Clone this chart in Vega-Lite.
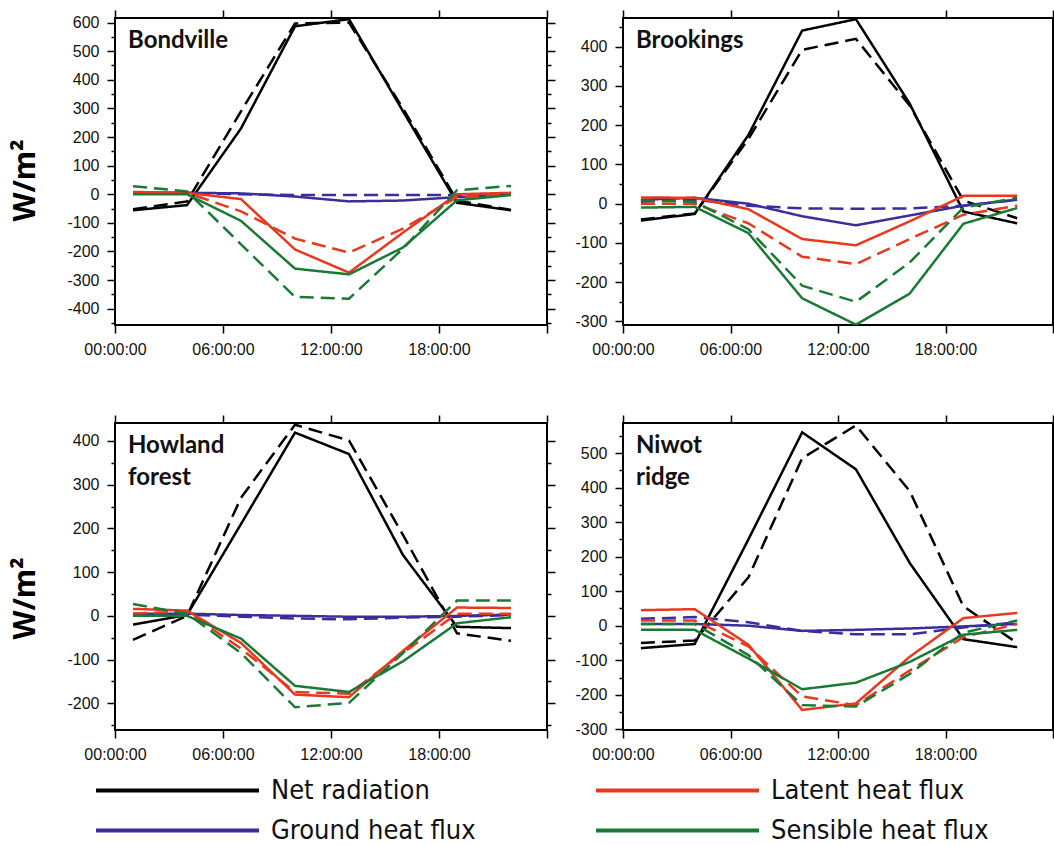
{
  "$schema": "https://vega.github.io/schema/vega-lite/v6.json",
  "background": "white",
  "padding": {"left": 9, "top": 8, "right": 5, "bottom": 0},
  "datasets": {
    "bondville": [
      {"flux":"Net radiation","run":"A","hour":1,"value":-56},{"flux":"Net radiation","run":"A","hour":4,"value":-38},{"flux":"Net radiation","run":"A","hour":7,"value":230},{"flux":"Net radiation","run":"A","hour":10,"value":587},{"flux":"Net radiation","run":"A","hour":13,"value":612},{"flux":"Net radiation","run":"A","hour":16,"value":290},{"flux":"Net radiation","run":"A","hour":19,"value":-30},{"flux":"Net radiation","run":"A","hour":22,"value":-56},
      {"flux":"Net radiation","run":"B","hour":1,"value":-52},{"flux":"Net radiation","run":"B","hour":4,"value":-25},{"flux":"Net radiation","run":"B","hour":7,"value":290},{"flux":"Net radiation","run":"B","hour":10,"value":597},{"flux":"Net radiation","run":"B","hour":13,"value":600},{"flux":"Net radiation","run":"B","hour":16,"value":300},{"flux":"Net radiation","run":"B","hour":19,"value":-22},{"flux":"Net radiation","run":"B","hour":22,"value":-55},
      {"flux":"Ground heat flux","run":"A","hour":1,"value":5},{"flux":"Ground heat flux","run":"A","hour":4,"value":5},{"flux":"Ground heat flux","run":"A","hour":7,"value":3},{"flux":"Ground heat flux","run":"A","hour":10,"value":-8},{"flux":"Ground heat flux","run":"A","hour":13,"value":-25},{"flux":"Ground heat flux","run":"A","hour":16,"value":-22},{"flux":"Ground heat flux","run":"A","hour":19,"value":-10},{"flux":"Ground heat flux","run":"A","hour":22,"value":0},
      {"flux":"Ground heat flux","run":"B","hour":1,"value":3},{"flux":"Ground heat flux","run":"B","hour":4,"value":3},{"flux":"Ground heat flux","run":"B","hour":7,"value":0},{"flux":"Ground heat flux","run":"B","hour":10,"value":-3},{"flux":"Ground heat flux","run":"B","hour":13,"value":-3},{"flux":"Ground heat flux","run":"B","hour":16,"value":-3},{"flux":"Ground heat flux","run":"B","hour":19,"value":-3},{"flux":"Ground heat flux","run":"B","hour":22,"value":0},
      {"flux":"Latent heat flux","run":"A","hour":1,"value":8},{"flux":"Latent heat flux","run":"A","hour":4,"value":5},{"flux":"Latent heat flux","run":"A","hour":7,"value":-17},{"flux":"Latent heat flux","run":"A","hour":10,"value":-193},{"flux":"Latent heat flux","run":"A","hour":13,"value":-274},{"flux":"Latent heat flux","run":"A","hour":16,"value":-134},{"flux":"Latent heat flux","run":"A","hour":19,"value":0},{"flux":"Latent heat flux","run":"A","hour":22,"value":5},
      {"flux":"Latent heat flux","run":"B","hour":1,"value":5},{"flux":"Latent heat flux","run":"B","hour":4,"value":5},{"flux":"Latent heat flux","run":"B","hour":7,"value":-60},{"flux":"Latent heat flux","run":"B","hour":10,"value":-155},{"flux":"Latent heat flux","run":"B","hour":13,"value":-204},{"flux":"Latent heat flux","run":"B","hour":16,"value":-120},{"flux":"Latent heat flux","run":"B","hour":19,"value":-10},{"flux":"Latent heat flux","run":"B","hour":22,"value":0},
      {"flux":"Sensible heat flux","run":"A","hour":1,"value":0},{"flux":"Sensible heat flux","run":"A","hour":4,"value":0},{"flux":"Sensible heat flux","run":"A","hour":7,"value":-93},{"flux":"Sensible heat flux","run":"A","hour":10,"value":-260},{"flux":"Sensible heat flux","run":"A","hour":13,"value":-280},{"flux":"Sensible heat flux","run":"A","hour":16,"value":-186},{"flux":"Sensible heat flux","run":"A","hour":19,"value":-21},{"flux":"Sensible heat flux","run":"A","hour":22,"value":-3},
      {"flux":"Sensible heat flux","run":"B","hour":1,"value":28},{"flux":"Sensible heat flux","run":"B","hour":4,"value":10},{"flux":"Sensible heat flux","run":"B","hour":7,"value":-175},{"flux":"Sensible heat flux","run":"B","hour":10,"value":-359},{"flux":"Sensible heat flux","run":"B","hour":13,"value":-365},{"flux":"Sensible heat flux","run":"B","hour":16,"value":-190},{"flux":"Sensible heat flux","run":"B","hour":19,"value":14},{"flux":"Sensible heat flux","run":"B","hour":22,"value":29}
    ],
    "brookings": [
      {"flux":"Net radiation","run":"A","hour":1,"value":-43},{"flux":"Net radiation","run":"A","hour":4,"value":-26},{"flux":"Net radiation","run":"A","hour":7,"value":175},{"flux":"Net radiation","run":"A","hour":10,"value":441},{"flux":"Net radiation","run":"A","hour":13,"value":470},{"flux":"Net radiation","run":"A","hour":16,"value":255},{"flux":"Net radiation","run":"A","hour":19,"value":-20},{"flux":"Net radiation","run":"A","hour":22,"value":-50},
      {"flux":"Net radiation","run":"B","hour":1,"value":-40},{"flux":"Net radiation","run":"B","hour":4,"value":-25},{"flux":"Net radiation","run":"B","hour":7,"value":165},{"flux":"Net radiation","run":"B","hour":10,"value":392},{"flux":"Net radiation","run":"B","hour":13,"value":420},{"flux":"Net radiation","run":"B","hour":16,"value":250},{"flux":"Net radiation","run":"B","hour":19,"value":8},{"flux":"Net radiation","run":"B","hour":22,"value":-37},
      {"flux":"Ground heat flux","run":"A","hour":1,"value":10},{"flux":"Ground heat flux","run":"A","hour":4,"value":15},{"flux":"Ground heat flux","run":"A","hour":7,"value":0},{"flux":"Ground heat flux","run":"A","hour":10,"value":-32},{"flux":"Ground heat flux","run":"A","hour":13,"value":-55},{"flux":"Ground heat flux","run":"A","hour":16,"value":-30},{"flux":"Ground heat flux","run":"A","hour":19,"value":-5},{"flux":"Ground heat flux","run":"A","hour":22,"value":10},
      {"flux":"Ground heat flux","run":"B","hour":1,"value":5},{"flux":"Ground heat flux","run":"B","hour":4,"value":10},{"flux":"Ground heat flux","run":"B","hour":7,"value":-5},{"flux":"Ground heat flux","run":"B","hour":10,"value":-12},{"flux":"Ground heat flux","run":"B","hour":13,"value":-13},{"flux":"Ground heat flux","run":"B","hour":16,"value":-12},{"flux":"Ground heat flux","run":"B","hour":19,"value":-5},{"flux":"Ground heat flux","run":"B","hour":22,"value":10},
      {"flux":"Latent heat flux","run":"A","hour":1,"value":16},{"flux":"Latent heat flux","run":"A","hour":4,"value":15},{"flux":"Latent heat flux","run":"A","hour":7,"value":-14},{"flux":"Latent heat flux","run":"A","hour":10,"value":-90},{"flux":"Latent heat flux","run":"A","hour":13,"value":-106},{"flux":"Latent heat flux","run":"A","hour":16,"value":-45},{"flux":"Latent heat flux","run":"A","hour":19,"value":20},{"flux":"Latent heat flux","run":"A","hour":22,"value":20},
      {"flux":"Latent heat flux","run":"B","hour":1,"value":0},{"flux":"Latent heat flux","run":"B","hour":4,"value":0},{"flux":"Latent heat flux","run":"B","hour":7,"value":-50},{"flux":"Latent heat flux","run":"B","hour":10,"value":-135},{"flux":"Latent heat flux","run":"B","hour":13,"value":-154},{"flux":"Latent heat flux","run":"B","hour":16,"value":-90},{"flux":"Latent heat flux","run":"B","hour":19,"value":-28},{"flux":"Latent heat flux","run":"B","hour":22,"value":-5},
      {"flux":"Sensible heat flux","run":"A","hour":1,"value":-10},{"flux":"Sensible heat flux","run":"A","hour":4,"value":-8},{"flux":"Sensible heat flux","run":"A","hour":7,"value":-75},{"flux":"Sensible heat flux","run":"A","hour":10,"value":-241},{"flux":"Sensible heat flux","run":"A","hour":13,"value":-308},{"flux":"Sensible heat flux","run":"A","hour":16,"value":-229},{"flux":"Sensible heat flux","run":"A","hour":19,"value":-51},{"flux":"Sensible heat flux","run":"A","hour":22,"value":-11},
      {"flux":"Sensible heat flux","run":"B","hour":1,"value":8},{"flux":"Sensible heat flux","run":"B","hour":4,"value":5},{"flux":"Sensible heat flux","run":"B","hour":7,"value":-65},{"flux":"Sensible heat flux","run":"B","hour":10,"value":-209},{"flux":"Sensible heat flux","run":"B","hour":13,"value":-250},{"flux":"Sensible heat flux","run":"B","hour":16,"value":-150},{"flux":"Sensible heat flux","run":"B","hour":19,"value":-10},{"flux":"Sensible heat flux","run":"B","hour":22,"value":15}
    ],
    "howland": [
      {"flux":"Net radiation","run":"A","hour":1,"value":-20},{"flux":"Net radiation","run":"A","hour":4,"value":2},{"flux":"Net radiation","run":"A","hour":7,"value":210},{"flux":"Net radiation","run":"A","hour":10,"value":419},{"flux":"Net radiation","run":"A","hour":13,"value":370},{"flux":"Net radiation","run":"A","hour":16,"value":139},{"flux":"Net radiation","run":"A","hour":19,"value":-25},{"flux":"Net radiation","run":"A","hour":22,"value":-28},
      {"flux":"Net radiation","run":"B","hour":1,"value":-55},{"flux":"Net radiation","run":"B","hour":4,"value":0},{"flux":"Net radiation","run":"B","hour":7,"value":270},{"flux":"Net radiation","run":"B","hour":10,"value":437},{"flux":"Net radiation","run":"B","hour":13,"value":401},{"flux":"Net radiation","run":"B","hour":16,"value":185},{"flux":"Net radiation","run":"B","hour":19,"value":-40},{"flux":"Net radiation","run":"B","hour":22,"value":-57},
      {"flux":"Ground heat flux","run":"A","hour":1,"value":5},{"flux":"Ground heat flux","run":"A","hour":4,"value":5},{"flux":"Ground heat flux","run":"A","hour":7,"value":2},{"flux":"Ground heat flux","run":"A","hour":10,"value":0},{"flux":"Ground heat flux","run":"A","hour":13,"value":-2},{"flux":"Ground heat flux","run":"A","hour":16,"value":-2},{"flux":"Ground heat flux","run":"A","hour":19,"value":0},{"flux":"Ground heat flux","run":"A","hour":22,"value":3},
      {"flux":"Ground heat flux","run":"B","hour":1,"value":3},{"flux":"Ground heat flux","run":"B","hour":4,"value":3},{"flux":"Ground heat flux","run":"B","hour":7,"value":-2},{"flux":"Ground heat flux","run":"B","hour":10,"value":-6},{"flux":"Ground heat flux","run":"B","hour":13,"value":-8},{"flux":"Ground heat flux","run":"B","hour":16,"value":-4},{"flux":"Ground heat flux","run":"B","hour":19,"value":-2},{"flux":"Ground heat flux","run":"B","hour":22,"value":2},
      {"flux":"Latent heat flux","run":"A","hour":1,"value":16},{"flux":"Latent heat flux","run":"A","hour":4,"value":12},{"flux":"Latent heat flux","run":"A","hour":7,"value":-62},{"flux":"Latent heat flux","run":"A","hour":10,"value":-180},{"flux":"Latent heat flux","run":"A","hour":13,"value":-186},{"flux":"Latent heat flux","run":"A","hour":16,"value":-80},{"flux":"Latent heat flux","run":"A","hour":19,"value":19},{"flux":"Latent heat flux","run":"A","hour":22,"value":18},
      {"flux":"Latent heat flux","run":"B","hour":1,"value":5},{"flux":"Latent heat flux","run":"B","hour":4,"value":10},{"flux":"Latent heat flux","run":"B","hour":7,"value":-75},{"flux":"Latent heat flux","run":"B","hour":10,"value":-174},{"flux":"Latent heat flux","run":"B","hour":13,"value":-178},{"flux":"Latent heat flux","run":"B","hour":16,"value":-85},{"flux":"Latent heat flux","run":"B","hour":19,"value":5},{"flux":"Latent heat flux","run":"B","hour":22,"value":5},
      {"flux":"Sensible heat flux","run":"A","hour":1,"value":0},{"flux":"Sensible heat flux","run":"A","hour":4,"value":0},{"flux":"Sensible heat flux","run":"A","hour":7,"value":-52},{"flux":"Sensible heat flux","run":"A","hour":10,"value":-160},{"flux":"Sensible heat flux","run":"A","hour":13,"value":-174},{"flux":"Sensible heat flux","run":"A","hour":16,"value":-104},{"flux":"Sensible heat flux","run":"A","hour":19,"value":-17},{"flux":"Sensible heat flux","run":"A","hour":22,"value":-3},
      {"flux":"Sensible heat flux","run":"B","hour":1,"value":27},{"flux":"Sensible heat flux","run":"B","hour":4,"value":5},{"flux":"Sensible heat flux","run":"B","hour":7,"value":-85},{"flux":"Sensible heat flux","run":"B","hour":10,"value":-209},{"flux":"Sensible heat flux","run":"B","hour":13,"value":-199},{"flux":"Sensible heat flux","run":"B","hour":16,"value":-85},{"flux":"Sensible heat flux","run":"B","hour":19,"value":35},{"flux":"Sensible heat flux","run":"B","hour":22,"value":35}
    ],
    "niwot": [
      {"flux":"Net radiation","run":"A","hour":1,"value":-65},{"flux":"Net radiation","run":"A","hour":4,"value":-53},{"flux":"Net radiation","run":"A","hour":7,"value":250},{"flux":"Net radiation","run":"A","hour":10,"value":560},{"flux":"Net radiation","run":"A","hour":13,"value":453},{"flux":"Net radiation","run":"A","hour":16,"value":182},{"flux":"Net radiation","run":"A","hour":19,"value":-39},{"flux":"Net radiation","run":"A","hour":22,"value":-62},
      {"flux":"Net radiation","run":"B","hour":1,"value":-50},{"flux":"Net radiation","run":"B","hour":4,"value":-43},{"flux":"Net radiation","run":"B","hour":7,"value":140},{"flux":"Net radiation","run":"B","hour":10,"value":485},{"flux":"Net radiation","run":"B","hour":13,"value":580},{"flux":"Net radiation","run":"B","hour":16,"value":390},{"flux":"Net radiation","run":"B","hour":19,"value":56},{"flux":"Net radiation","run":"B","hour":22,"value":-50},
      {"flux":"Ground heat flux","run":"A","hour":1,"value":5},{"flux":"Ground heat flux","run":"A","hour":4,"value":5},{"flux":"Ground heat flux","run":"A","hour":7,"value":0},{"flux":"Ground heat flux","run":"A","hour":10,"value":-15},{"flux":"Ground heat flux","run":"A","hour":13,"value":-12},{"flux":"Ground heat flux","run":"A","hour":16,"value":-8},{"flux":"Ground heat flux","run":"A","hour":19,"value":-2},{"flux":"Ground heat flux","run":"A","hour":22,"value":5},
      {"flux":"Ground heat flux","run":"B","hour":1,"value":20},{"flux":"Ground heat flux","run":"B","hour":4,"value":25},{"flux":"Ground heat flux","run":"B","hour":7,"value":10},{"flux":"Ground heat flux","run":"B","hour":10,"value":-15},{"flux":"Ground heat flux","run":"B","hour":13,"value":-25},{"flux":"Ground heat flux","run":"B","hour":16,"value":-25},{"flux":"Ground heat flux","run":"B","hour":19,"value":-5},{"flux":"Ground heat flux","run":"B","hour":22,"value":10},
      {"flux":"Latent heat flux","run":"A","hour":1,"value":45},{"flux":"Latent heat flux","run":"A","hour":4,"value":48},{"flux":"Latent heat flux","run":"A","hour":7,"value":-55},{"flux":"Latent heat flux","run":"A","hour":10,"value":-244},{"flux":"Latent heat flux","run":"A","hour":13,"value":-225},{"flux":"Latent heat flux","run":"A","hour":16,"value":-90},{"flux":"Latent heat flux","run":"A","hour":19,"value":22},{"flux":"Latent heat flux","run":"A","hour":22,"value":37},
      {"flux":"Latent heat flux","run":"B","hour":1,"value":15},{"flux":"Latent heat flux","run":"B","hour":4,"value":15},{"flux":"Latent heat flux","run":"B","hour":7,"value":-60},{"flux":"Latent heat flux","run":"B","hour":10,"value":-205},{"flux":"Latent heat flux","run":"B","hour":13,"value":-230},{"flux":"Latent heat flux","run":"B","hour":16,"value":-130},{"flux":"Latent heat flux","run":"B","hour":19,"value":-33},{"flux":"Latent heat flux","run":"B","hour":22,"value":5},
      {"flux":"Sensible heat flux","run":"A","hour":1,"value":-12},{"flux":"Sensible heat flux","run":"A","hour":4,"value":-12},{"flux":"Sensible heat flux","run":"A","hour":7,"value":-95},{"flux":"Sensible heat flux","run":"A","hour":10,"value":-184},{"flux":"Sensible heat flux","run":"A","hour":13,"value":-165},{"flux":"Sensible heat flux","run":"A","hour":16,"value":-105},{"flux":"Sensible heat flux","run":"A","hour":19,"value":-26},{"flux":"Sensible heat flux","run":"A","hour":22,"value":-12},
      {"flux":"Sensible heat flux","run":"B","hour":1,"value":5},{"flux":"Sensible heat flux","run":"B","hour":4,"value":5},{"flux":"Sensible heat flux","run":"B","hour":7,"value":-85},{"flux":"Sensible heat flux","run":"B","hour":10,"value":-230},{"flux":"Sensible heat flux","run":"B","hour":13,"value":-234},{"flux":"Sensible heat flux","run":"B","hour":16,"value":-140},{"flux":"Sensible heat flux","run":"B","hour":19,"value":-20},{"flux":"Sensible heat flux","run":"B","hour":22,"value":15}
    ]
  },
  "columns": 2,
  "spacing": {"row": 98, "column": 76},
  "bounds": "flush",
  "concat": [
    {
      "width": 432, "height": 307,
      "data": {"name": "bondville"},
      "title": {"text": "Bondville", "anchor": "start", "frame": "group", "orient": "top", "offset": -44, "dx": 13, "baseline": "top"},
      "layer": [
        {"mark": {"type": "line", "clip": true, "strokeWidth": 2.5},
         "encoding": {
           "x": {"field": "hour", "type": "quantitative", "scale": {"domain": [0, 24], "nice": false, "zero": false},
                 "axis": {"orient": "bottom", "values": [0, 6, 12, 18, 24], "tickSize": 8, "labelFlush": false, "title": null,
                          "labelExpr": "datum.value >= 24 ? '' : (datum.value < 10 ? '0' : '') + datum.value + ':00:00'"}},
           "y": {"field": "value", "type": "quantitative", "scale": {"domain": [-457, 616], "nice": false, "zero": false},
                 "axis": {"orient": "left", "values": [-450,-400,-350,-300,-250,-200,-150,-100,-50,0,50,100,150,200,250,300,350,400,450,500,550,600],
                          "tickSize": {"condition": {"test": "datum.value % 100 === 0", "value": 8}, "value": 4},
                          "labelExpr": "datum.value % 100 === 0 ? '' + datum.value : ''", "labelOverlap": false,
                          "title": "W/m²", "titleFont": "Open Sans", "titleFontWeight": "bold", "titleFontSize": 30, "titleColor": "#000",
                          "titleX": -90, "titleY": 162, "titleAngle": -90, "titleAlign": "center", "titleBaseline": "middle"}},
           "color": {"field": "flux", "type": "nominal",
                     "scale": {"domain": ["Net radiation", "Latent heat flux", "Ground heat flux", "Sensible heat flux"], "range": ["#000000", "#e8381e", "#3a2d9c", "#1a7a35"]},
                     "legend": {"orient": "none", "direction": "horizontal", "legendX": -21, "legendY": 759, "columns": 2, "columnPadding": 118, "rowPadding": 12, "symbolType": "stroke", "symbolSize": 26569, "symbolStrokeWidth": 4, "clipHeight": 27, "labelFont": "DejaVu Sans Condensed", "labelFontSize": 27, "labelColor": "#111111", "labelOffset": 10, "labelLimit": 400, "padding": 0, "title": null}},
           "strokeDash": {"field": "run", "type": "nominal", "scale": {"domain": ["A", "B"], "range": [[1, 0], [14, 7]]}, "legend": null}
         }},
        {"mark": {"type": "line", "opacity": 0},
         "encoding": {
           "x": {"field": "hour", "type": "quantitative", "scale": {"domain": [0, 24], "nice": false, "zero": false},
                 "axis": {"orient": "top", "values": [0, 6, 12, 18, 24], "tickSize": 8, "labels": false, "title": null}},
           "y": {"field": "value", "type": "quantitative", "scale": {"domain": [-457, 616], "nice": false, "zero": false},
                 "axis": {"orient": "right", "values": [-450,-400,-350,-300,-250,-200,-150,-100,-50,0,50,100,150,200,250,300,350,400,450,500,550,600],
                          "tickSize": {"condition": {"test": "datum.value % 100 === 0", "value": 8}, "value": 4}, "labels": false, "title": null}}
         }}
      ],
      "resolve": {"axis": {"x": "independent", "y": "independent"}}
    },
    {
      "width": 430, "height": 307,
      "data": {"name": "brookings"},
      "title": {"text": "Brookings", "anchor": "start", "frame": "group", "orient": "top", "offset": -44, "dx": 13, "baseline": "top"},
      "layer": [
        {"mark": {"type": "line", "clip": true, "strokeWidth": 2.5},
         "encoding": {
           "x": {"field": "hour", "type": "quantitative", "scale": {"domain": [0, 24], "nice": false, "zero": false},
                 "axis": {"orient": "bottom", "values": [0, 6, 12, 18, 24], "tickSize": 8, "labelFlush": false, "title": null,
                          "labelExpr": "datum.value >= 24 ? '' : (datum.value < 10 ? '0' : '') + datum.value + ':00:00'"}},
           "y": {"field": "value", "type": "quantitative", "scale": {"domain": [-309, 473], "nice": false, "zero": false},
                 "axis": {"orient": "left", "values": [-300,-250,-200,-150,-100,-50,0,50,100,150,200,250,300,350,400,450],
                          "tickSize": {"condition": {"test": "datum.value % 100 === 0", "value": 8}, "value": 4},
                          "labelExpr": "datum.value % 100 === 0 ? '' + datum.value : ''", "labelOverlap": false, "title": null}},
           "color": {"field": "flux", "type": "nominal",
                     "scale": {"domain": ["Net radiation", "Latent heat flux", "Ground heat flux", "Sensible heat flux"], "range": ["#000000", "#e8381e", "#3a2d9c", "#1a7a35"]},
                     "legend": {"orient": "none", "direction": "horizontal", "legendX": -21, "legendY": 759, "columns": 2, "columnPadding": 118, "rowPadding": 12, "symbolType": "stroke", "symbolSize": 26569, "symbolStrokeWidth": 4, "clipHeight": 27, "labelFont": "DejaVu Sans Condensed", "labelFontSize": 27, "labelColor": "#111111", "labelOffset": 10, "labelLimit": 400, "padding": 0, "title": null}},
           "strokeDash": {"field": "run", "type": "nominal", "scale": {"domain": ["A", "B"], "range": [[1, 0], [14, 7]]}, "legend": null}
         }},
        {"mark": {"type": "line", "opacity": 0},
         "encoding": {
           "x": {"field": "hour", "type": "quantitative", "scale": {"domain": [0, 24], "nice": false, "zero": false},
                 "axis": {"orient": "top", "values": [0, 6, 12, 18, 24], "tickSize": 8, "labels": false, "title": null}},
           "y": {"field": "value", "type": "quantitative", "scale": {"domain": [-309, 473], "nice": false, "zero": false},
                 "axis": {"orient": "right", "values": [-300,-250,-200,-150,-100,-50,0,50,100,150,200,250,300,350,400,450],
                          "tickSize": {"condition": {"test": "datum.value % 100 === 0", "value": 8}, "value": 4}, "labels": false, "title": null}}
         }}
      ],
      "resolve": {"axis": {"x": "independent", "y": "independent"}}
    },
    {
      "width": 432, "height": 307,
      "data": {"name": "howland"},
      "title": {"text": ["Howland", "forest"], "anchor": "start", "frame": "group", "orient": "top", "offset": -76, "dx": 13, "baseline": "top"},
      "layer": [
        {"mark": {"type": "line", "clip": true, "strokeWidth": 2.5},
         "encoding": {
           "x": {"field": "hour", "type": "quantitative", "scale": {"domain": [0, 24], "nice": false, "zero": false},
                 "axis": {"orient": "bottom", "values": [0, 6, 12, 18, 24], "tickSize": 8, "labelFlush": false, "title": null,
                          "labelExpr": "datum.value >= 24 ? '' : (datum.value < 10 ? '0' : '') + datum.value + ':00:00'"}},
           "y": {"field": "value", "type": "quantitative", "scale": {"domain": [-261, 441], "nice": false, "zero": false},
                 "axis": {"orient": "left", "values": [-250,-200,-150,-100,-50,0,50,100,150,200,250,300,350,400],
                          "tickSize": {"condition": {"test": "datum.value % 100 === 0", "value": 8}, "value": 4},
                          "labelExpr": "datum.value % 100 === 0 ? '' + datum.value : ''", "labelOverlap": false,
                          "title": "W/m²", "titleFont": "Open Sans", "titleFontWeight": "bold", "titleFontSize": 30, "titleColor": "#000",
                          "titleX": -90, "titleY": 175, "titleAngle": -90, "titleAlign": "center", "titleBaseline": "middle"}},
           "color": {"field": "flux", "type": "nominal",
                     "scale": {"domain": ["Net radiation", "Latent heat flux", "Ground heat flux", "Sensible heat flux"], "range": ["#000000", "#e8381e", "#3a2d9c", "#1a7a35"]},
                     "legend": {"orient": "none", "direction": "horizontal", "legendX": -21, "legendY": 759, "columns": 2, "columnPadding": 118, "rowPadding": 12, "symbolType": "stroke", "symbolSize": 26569, "symbolStrokeWidth": 4, "clipHeight": 27, "labelFont": "DejaVu Sans Condensed", "labelFontSize": 27, "labelColor": "#111111", "labelOffset": 10, "labelLimit": 400, "padding": 0, "title": null}},
           "strokeDash": {"field": "run", "type": "nominal", "scale": {"domain": ["A", "B"], "range": [[1, 0], [14, 7]]}, "legend": null}
         }},
        {"mark": {"type": "line", "opacity": 0},
         "encoding": {
           "x": {"field": "hour", "type": "quantitative", "scale": {"domain": [0, 24], "nice": false, "zero": false},
                 "axis": {"orient": "top", "values": [0, 6, 12, 18, 24], "tickSize": 8, "labels": false, "title": null}},
           "y": {"field": "value", "type": "quantitative", "scale": {"domain": [-261, 441], "nice": false, "zero": false},
                 "axis": {"orient": "right", "values": [-250,-200,-150,-100,-50,0,50,100,150,200,250,300,350,400],
                          "tickSize": {"condition": {"test": "datum.value % 100 === 0", "value": 8}, "value": 4}, "labels": false, "title": null}}
         }}
      ],
      "resolve": {"axis": {"x": "independent", "y": "independent"}}
    },
    {
      "width": 430, "height": 307,
      "data": {"name": "niwot"},
      "title": {"text": ["Niwot", "ridge"], "anchor": "start", "frame": "group", "orient": "top", "offset": -76, "dx": 13, "baseline": "top"},
      "layer": [
        {"mark": {"type": "line", "clip": true, "strokeWidth": 2.5},
         "encoding": {
           "x": {"field": "hour", "type": "quantitative", "scale": {"domain": [0, 24], "nice": false, "zero": false},
                 "axis": {"orient": "bottom", "values": [0, 6, 12, 18, 24], "tickSize": 8, "labelFlush": false, "title": null,
                          "labelExpr": "datum.value >= 24 ? '' : (datum.value < 10 ? '0' : '') + datum.value + ':00:00'"}},
           "y": {"field": "value", "type": "quantitative", "scale": {"domain": [-302, 587], "nice": false, "zero": false},
                 "axis": {"orient": "left", "values": [-300,-250,-200,-150,-100,-50,0,50,100,150,200,250,300,350,400,450,500,550],
                          "tickSize": {"condition": {"test": "datum.value % 100 === 0", "value": 8}, "value": 4},
                          "labelExpr": "datum.value % 100 === 0 ? '' + datum.value : ''", "labelOverlap": false, "title": null}},
           "color": {"field": "flux", "type": "nominal",
                     "scale": {"domain": ["Net radiation", "Latent heat flux", "Ground heat flux", "Sensible heat flux"], "range": ["#000000", "#e8381e", "#3a2d9c", "#1a7a35"]},
                     "legend": {"orient": "none", "direction": "horizontal", "legendX": -21, "legendY": 759, "columns": 2, "columnPadding": 118, "rowPadding": 12, "symbolType": "stroke", "symbolSize": 26569, "symbolStrokeWidth": 4, "clipHeight": 27, "labelFont": "DejaVu Sans Condensed", "labelFontSize": 27, "labelColor": "#111111", "labelOffset": 10, "labelLimit": 400, "padding": 0, "title": null}},
           "strokeDash": {"field": "run", "type": "nominal", "scale": {"domain": ["A", "B"], "range": [[1, 0], [14, 7]]}, "legend": null}
         }},
        {"mark": {"type": "line", "opacity": 0},
         "encoding": {
           "x": {"field": "hour", "type": "quantitative", "scale": {"domain": [0, 24], "nice": false, "zero": false},
                 "axis": {"orient": "top", "values": [0, 6, 12, 18, 24], "tickSize": 8, "labels": false, "title": null}},
           "y": {"field": "value", "type": "quantitative", "scale": {"domain": [-302, 587], "nice": false, "zero": false},
                 "axis": {"orient": "right", "values": [-300,-250,-200,-150,-100,-50,0,50,100,150,200,250,300,350,400,450,500,550],
                          "tickSize": {"condition": {"test": "datum.value % 100 === 0", "value": 8}, "value": 4}, "labels": false, "title": null}}
         }}
      ],
      "resolve": {"axis": {"x": "independent", "y": "independent"}}
    }
  ],
  "resolve": {"scale": {"x": "independent", "y": "independent", "color": "shared", "strokeDash": "shared"}},
  "config": {
    "view": {"stroke": "#000000", "strokeWidth": 2},
    "axis": {"domain": false, "grid": false, "tickColor": "#000000", "tickWidth": 1.5, "labelFont": "Liberation Sans", "labelFontSize": 16, "labelColor": "#111111", "labelPadding": 8},
    "title": {"font": "Lato", "fontWeight": "bold", "fontSize": 24, "color": "#111111", "lineHeight": 32}
  }
}
